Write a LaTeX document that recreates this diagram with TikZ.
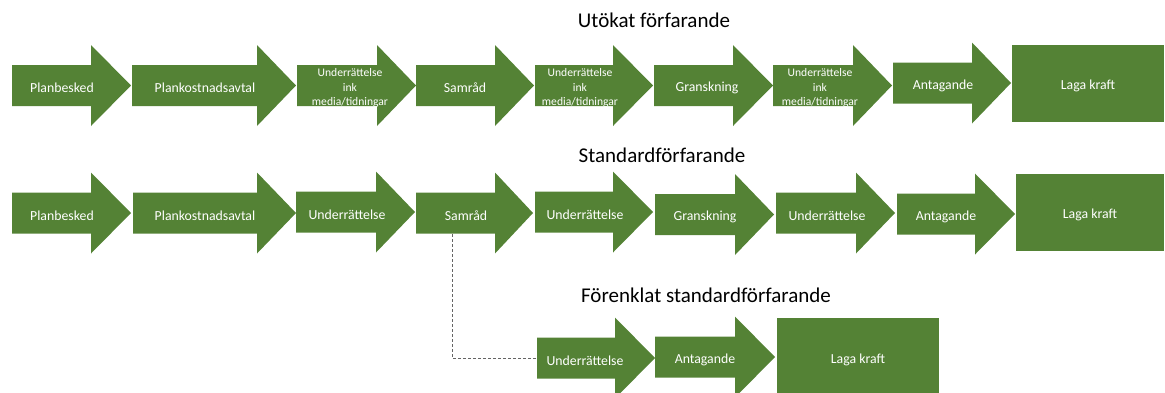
\documentclass[tikz,border=0pt]{standalone}
\usepackage{fontspec}
\setmainfont{Carlito}
\definecolor{grn}{RGB}{84,130,53}
\definecolor{dashgray}{RGB}{100,100,100}
\tikzset{
  lbl/.style={text=white, inner sep=0pt, yshift=-2.5pt, font=\fontsize{13.8}{16}\selectfont},
  smalllbl/.style={align=center, font=\fontsize{11.6}{14.8}\selectfont},
  lkbox/.style={fill=grn, text=white, inner sep=0pt, text height=12pt, text depth=0pt, font=\fontsize{13.8}{16}\selectfont},
  ttl/.style={text=black, inner sep=0pt, font=\fontsize{21}{24}\selectfont},
  conn/.style={dashgray, line width=1pt, dash pattern=on 3pt off 2pt}
}
% #1 name, #2 x0, #3 head base x, #4 tip x, #5 centre y, #6 text x, #7 text, #8 extra node options
\newcommand\barrow[8]{%
  \fill[grn] (#2,#5-20.5) -- (#3,#5-20.5) -- (#3,#5-40.5) -- (#4,#5) -- (#3,#5+40.5) -- (#3,#5+20.5) -- (#2,#5+20.5) -- cycle;
  \coordinate (#1-w) at (#2,#5);
  \node[lbl,#8] (#1) at (#6,#5) {#7};
}
\begin{document}
\begin{tikzpicture}[x=1pt,y=-1pt]
\useasboundingbox (0,0) rectangle (1165,392);
\clip (0,0) rectangle (1165,392);

% titles
\node[ttl] (t1) at (654,20) {Utökat förfarande};
\node[ttl] (t2) at (662,155) {Standardförfarande};
\node[ttl] (t3) at (706,295) {Förenklat standardförfarande};

% row 1
\barrow{pb1}{12}{91}{131}{85.5}{62}{Planbesked}{}
\barrow{pk1}{132}{257}{296}{85.5}{205}{Plankostnadsavtal}{}
\barrow{u1a}{297}{377}{416}{85.5}{350}{Underrättelse\\ink\\media/tidningar}{smalllbl}
\barrow{sa1}{416}{495}{534}{85.5}{465}{Samråd}{}
\barrow{u1b}{535}{613}{653}{85.5}{580}{Underrättelse\\ink\\media/tidningar}{smalllbl}
\barrow{gr1}{654}{733}{773}{85.5}{707}{Granskning}{}
\barrow{u1c}{773}{853}{892}{85.5}{820}{Underrättelse\\ink\\media/tidningar}{smalllbl}
\barrow{an1}{893}{972}{1011}{83}{943}{Antagande}{}
\node[lkbox, minimum width=152pt, minimum height=77pt] (lk1) at (1088,83.5) {Laga kraft};

% row 2
\barrow{pb2}{12}{91}{131}{213}{62}{Planbesked}{}
\barrow{pk2}{133}{257}{296}{213}{205}{Plankostnadsavtal}{}
\barrow{u2a}{296}{376}{415}{212}{347}{Underrättelse}{}
\barrow{sa2}{416}{495}{533}{213}{466}{Samråd}{}
\barrow{u2b}{535}{613}{653}{212}{585}{Underrättelse}{}
\barrow{gr2}{655}{735}{774}{214.5}{705}{Granskning}{}
\barrow{u2c}{776}{856}{895}{213}{827}{Underrättelse}{}
\barrow{an2}{897}{975}{1015}{214}{946}{Antagande}{}
\node[lkbox, minimum width=148pt, minimum height=77pt] (lk2) at (1090,212.5) {Laga kraft};

% row 3
\barrow{u3}{537}{615}{655}{358}{585}{Underrättelse}{}
\barrow{an3}{655}{735}{775}{357}{705}{Antagande}{}
\node[lkbox, minimum width=162pt, minimum height=78pt] (lk3) at (858,357) {Laga kraft};

% dashed connector
\coordinate (samB) at (452,234);
\draw[conn] (samB) |- (u3-w);
\end{tikzpicture}
\end{document}
